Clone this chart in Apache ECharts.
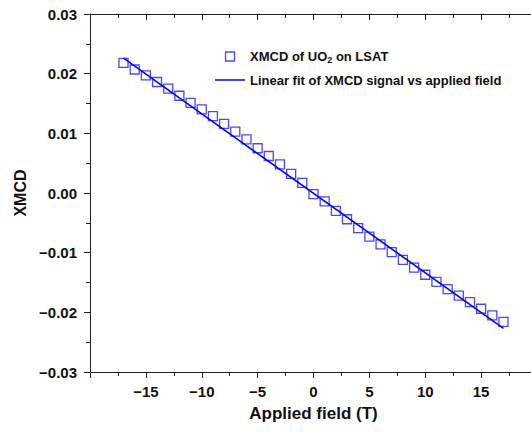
<!DOCTYPE html>
<html>
<head>
<meta charset="utf-8">
<script src="https://cdn.jsdelivr.net/npm/echarts@6/dist/echarts.min.js"></script>
<style>
html,body{margin:0;padding:0;background:#fff;}
#chart{width:531px;height:434px;}
</style>
</head>
<body>
<div id="chart"></div>
<script>
// Applied field (T)
const fieldValues = [-17,-16,-15,-14,-13,-12,-11,-10,-9,-8,-7,-6,-5,-4,-3,-2,-1,0,1,2,3,4,5,6,7,8,9,10,11,12,13,14,15,16,17];
// XMCD measured values
const xmcdValues = [0.0218,0.0207,0.0197,0.0186,0.0175,0.0163,0.0151,0.0140,0.0129,0.0116,0.0103,0.0090,0.0075,0.0062,0.0048,0.0032,0.0017,-0.0002,-0.0014,-0.0030,-0.0044,-0.0059,-0.0073,-0.0086,-0.0099,-0.0112,-0.0125,-0.0137,-0.0149,-0.0161,-0.0172,-0.0183,-0.0194,-0.0205,-0.0216];
// Linear fit end points
const fitField = [-17, 17];
const fitValues = [0.0226, -0.0227];

const seriesNames = ['XMCD of UO2 on LSAT', 'Linear fit of XMCD signal vs applied field'];

const chart = echarts.init(document.getElementById('chart'), null, {renderer: 'svg'});
const FONT = '"Liberation Sans", Arial, sans-serif';
const AX = '#222';
const minus = v => (v < 0 ? '\u2212' : '');

const xCommon = {type: 'value', min: -20, max: 20, interval: 5};
const yCommon = {type: 'value', min: -0.03, max: 0.03, interval: 0.01};

const option = {
  backgroundColor: '#fff',
  animation: false,
  grid: {left: 90, top: 14, right: -6, bottom: 62, containLabel: false, outerBoundsMode: 'none'},
  legend: {
    orient: 'vertical',
    left: 215, top: 50, padding: 0,
    itemWidth: 30, itemHeight: 9, itemGap: 9,
    symbolKeepAspect: true,
    data: [
      {name: seriesNames[0], icon: 'path://M0,0 L10,0 L10,10 L0,10 Z',
       itemStyle: {color: 'rgba(255,255,255,0)', borderColor: '#1a1aff', borderWidth: 1.3}},
      {name: seriesNames[1], icon: 'path://M0,0 L60,0 L60,3 L0,3 Z',
       itemStyle: {color: '#0000ff', borderWidth: 0}}
    ],
    formatter: function (name) {
      if (name === seriesNames[0]) return '{n|XMCD of UO}{s|2}{n| on LSAT}';
      return '{n|' + name + '}';
    },
    textStyle: {
      fontFamily: FONT, fontWeight: 'bold', fontSize: 13, color: '#111',
      rich: {
        n: {fontFamily: FONT, fontWeight: 'bold', fontSize: 13, color: '#111'},
        s: {fontFamily: FONT, fontWeight: 'bold', fontSize: 9, color: '#111', padding: [7, 0, 0, 0]}
      }
    }
  },
  xAxis: [
    Object.assign({}, xCommon, {
      position: 'bottom',
      name: 'Applied field (T)', nameLocation: 'middle', nameGap: 33,
      nameTextStyle: {fontFamily: FONT, fontWeight: 'bold', fontSize: 17, color: '#111'},
      axisLine: {show: true, onZero: false, lineStyle: {color: AX, width: 1}},
      axisTick: {show: true, inside: false, length: 6, lineStyle: {color: AX}},
      minorTick: {show: true, splitNumber: 2, length: 4, lineStyle: {color: AX}},
      splitLine: {show: false},
      axisLabel: {
        show: true, margin: 12, showMinLabel: false, showMaxLabel: false,
        fontFamily: FONT, fontWeight: 'bold', fontSize: 15, color: '#111',
        formatter: v => minus(v) + Math.abs(v)
      }
    }),
    Object.assign({}, xCommon, {
      position: 'top',
      axisLine: {show: true, onZero: false, lineStyle: {color: AX, width: 1}},
      axisTick: {show: true, inside: true, length: 6, lineStyle: {color: AX}},
      minorTick: {show: true, splitNumber: 2, length: 4, lineStyle: {color: AX}},
      splitLine: {show: false},
      axisLabel: {show: false}
    })
  ],
  yAxis: [
    Object.assign({}, yCommon, {
      position: 'left',
      name: 'XMCD', nameLocation: 'middle', nameGap: 60, nameRotate: 90,
      nameTextStyle: {fontFamily: FONT, fontWeight: 'bold', fontSize: 16, color: '#111'},
      axisLine: {show: true, onZero: false, lineStyle: {color: AX, width: 1}},
      axisTick: {show: true, inside: false, length: 6, lineStyle: {color: AX}},
      minorTick: {show: true, splitNumber: 2, length: 4, lineStyle: {color: AX}},
      splitLine: {show: false},
      axisLabel: {
        show: true, margin: 13,
        fontFamily: FONT, fontWeight: 'bold', fontSize: 15, color: '#111',
        formatter: v => minus(v) + Math.abs(v).toFixed(2)
      }
    }),
    Object.assign({}, yCommon, {
      position: 'right',
      axisLine: {show: true, onZero: false, lineStyle: {color: AX, width: 1}},
      axisTick: {show: true, inside: true, length: 6, lineStyle: {color: AX}},
      minorTick: {show: true, splitNumber: 2, length: 4, lineStyle: {color: AX}},
      splitLine: {show: false},
      axisLabel: {show: false}
    })
  ],
  series: [
    {
      name: seriesNames[0],
      type: 'scatter',
      xAxisIndex: 0, yAxisIndex: 0,
      symbol: 'rect', symbolSize: 9,
      itemStyle: {color: 'rgba(255,255,255,0)', borderColor: '#1a1aff', borderWidth: 1.3},
      data: fieldValues.map((f, i) => [f, xmcdValues[i]]),
      z: 2
    },
    {
      name: seriesNames[1],
      type: 'line',
      xAxisIndex: 0, yAxisIndex: 0,
      symbol: 'none', showSymbol: false,
      lineStyle: {color: '#0000ff', width: 1.6},
      itemStyle: {color: '#0000ff'},
      data: fitField.map((f, i) => [f, fitValues[i]]),
      z: 3
    }
  ]
};
chart.setOption(option);
</script>
</body>
</html>
